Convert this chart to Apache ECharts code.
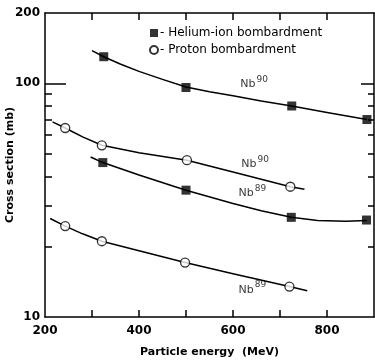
<!DOCTYPE html>
<html>
<head>
<meta charset="utf-8">
<script src="https://cdn.jsdelivr.net/npm/echarts@6/dist/echarts.min.js"></script>
<style>
  html, body { margin: 0; background: #fff; }
  #chart { width: 375px; height: 360px; }
</style>
</head>
<body>
<div id="chart"></div>
<script>
// measured points
const heNb90X = [325, 500, 725, 885]
const heNb90Y = [130, 96, 80, 70]
const heNb89X = [323, 500, 724, 884]
const heNb89Y = [45.8, 34.9, 26.7, 26.0]
const prNb90X = [243, 321, 502, 722]
const prNb90Y = [64.4, 54.3, 46.9, 36.1]
const prNb89X = [243, 321, 498, 720]
const prNb89Y = [24.5, 21.1, 17.1, 13.5]

// hand-drawn fit curves
const curveHeNb90 = [[300, 138], [325, 130], [360, 121], [400, 112.5], [450, 104], [500, 96.5], [550, 92], [600, 88.5], [660, 84], [725, 80], [800, 75], [885, 70]]
const curveHeNb89 = [[297, 48.4], [323, 45.8], [400, 40.5], [500, 34.9], [600, 30.6], [660, 28.5], [724, 26.7], [780, 25.9], [840, 25.7], [885, 25.9]]
const curvePrNb90 = [[216, 68.4], [243, 64.4], [280, 59], [321, 54.3], [400, 50.5], [502, 46.9], [600, 41.7], [722, 36.1], [752, 35.2]]
const curvePrNb89 = [[211, 26.4], [243, 24.5], [280, 22.7], [321, 21.1], [400, 19.2], [498, 17.1], [600, 15.3], [720, 13.5], [758, 12.95]]

// curve labels (data coords)
const curveLabels = [[645, 101, '90'], [647, 45.9, '90'], [641, 34.5, '89'], [641, 13.3, '89']]

const xLabels = [200, 400, 600, 800]
const xTicks = [300, 400, 500, 600, 700, 800]
const yLabels = [10, 100, 200]
const yMinorTicks = [20, 30, 40, 50, 60, 70, 80, 90]

const FONT = 'DejaVu Sans'
const INK = '#000'

const zip = (xs, ys) => xs.map((x, i) => [x, ys[i]])

const xBase = {
  type: 'value', min: 200, max: 900, interval: 100,
  splitLine: { show: false },
  axisLine: { lineStyle: { color: INK, width: 1.5 } },
}
const yBase = {
  type: 'log', logBase: 10, min: 10, max: 200,
  splitLine: { show: false }, minorTick: { show: false },
}

const chart = echarts.init(document.getElementById('chart'))
chart.setOption({
  animation: false,
  grid: { left: 45, right: 1, top: 13, bottom: 43, outerBoundsMode: 'none' },
  legend: {
    orient: 'vertical', left: 149, top: 27, itemGap: 5, padding: 0,
    itemWidth: 8, itemHeight: 8,
    data: [
      { name: 'Helium-ion bombardment', icon: 'rect' },
      { name: 'Proton bombardment', icon: 'circle' },
    ],
    formatter: (n) => '- ' + n,
    textStyle: { fontFamily: FONT, fontSize: 12, color: INK, padding: [0, 0, 0, -3] },
  },
  xAxis: [
    {
      ...xBase, position: 'bottom',
      name: 'Particle energy  (MeV)', nameLocation: 'middle', nameGap: 30,
      nameTextStyle: { fontFamily: FONT, fontSize: 11, fontWeight: 'bold', color: INK },
      axisTick: { inside: true, length: 7, customValues: xTicks, lineStyle: { color: INK, width: 1.5 } },
      axisLabel: { customValues: xLabels, margin: 8, fontFamily: FONT, fontSize: 12, fontWeight: 'bold', color: INK },
    },
    {
      ...xBase, position: 'top',
      axisTick: { inside: true, length: 7, customValues: xTicks, lineStyle: { color: INK, width: 1.5 } },
      axisLabel: { show: false },
    },
  ],
  yAxis: [
    {
      ...yBase, position: 'left',
      axisLine: { lineStyle: { color: INK, width: 1.5 } },
      name: 'Cross section (mb)', nameLocation: 'middle', nameGap: 29, nameRotate: 90,
      nameMoveOverlap: false,
      nameTextStyle: { fontFamily: FONT, fontSize: 11, fontWeight: 'bold', color: INK, width: 200, overflow: 'none', align: 'center' },
      axisTick: { inside: true, length: 7, customValues: yMinorTicks, lineStyle: { color: INK, width: 1.5 } },
      axisLabel: { customValues: yLabels, margin: 5, fontFamily: FONT, fontSize: 12, fontWeight: 'bold', color: INK },
    },
    {
      ...yBase, position: 'left',
      axisLine: { show: false },
      axisTick: { inside: true, length: 21, customValues: [100], lineStyle: { color: INK, width: 1.5 } },
      axisLabel: { show: false },
    },
    {
      ...yBase, position: 'right',
      axisLine: { lineStyle: { color: INK, width: 1.5 } },
      axisTick: { inside: true, length: 6, customValues: yMinorTicks, lineStyle: { color: INK, width: 1.5 } },
      axisLabel: { show: false },
    },
    {
      ...yBase, position: 'right',
      axisLine: { show: false },
      axisTick: { inside: true, length: 13, customValues: [100], lineStyle: { color: INK, width: 1.5 } },
      axisLabel: { show: false },
    },
  ],
  series: [
    ...[curveHeNb90, curveHeNb89, curvePrNb90, curvePrNb89].map((c) => ({
      type: 'line', data: c, smooth: false, symbol: 'none', silent: true,
      lineStyle: { color: INK, width: 1.5, join: 'round' },
    })),
    ...[zip(heNb90X, heNb90Y), zip(heNb89X, heNb89Y)].map((d) => ({
      name: 'Helium-ion bombardment', type: 'scatter', data: d, symbol: 'rect', symbolSize: 9, z: 5,
      itemStyle: { color: INK },
    })),
    ...[zip(prNb90X, prNb90Y), zip(prNb89X, prNb89Y)].map((d) => ({
      name: 'Proton bombardment', type: 'scatter', data: d, symbol: 'circle', symbolSize: 9, z: 5,
      itemStyle: { color: '#fff', borderColor: INK, borderWidth: 1.3 },
    })),
    {
      type: 'scatter', symbolSize: 0, silent: true,
      data: curveLabels,
      label: {
        show: true, position: 'inside',
        formatter: (p) => '{b|Nb}{s|' + p.value[2] + '}',
        rich: {
          b: { fontFamily: FONT, fontSize: 11, color: INK, verticalAlign: 'bottom' },
          s: { fontFamily: FONT, fontSize: 9, color: INK, verticalAlign: 'top', padding: [0, 0, 6, 1] },
        },
      },
    },
  ],
})
</script>
</body>
</html>
